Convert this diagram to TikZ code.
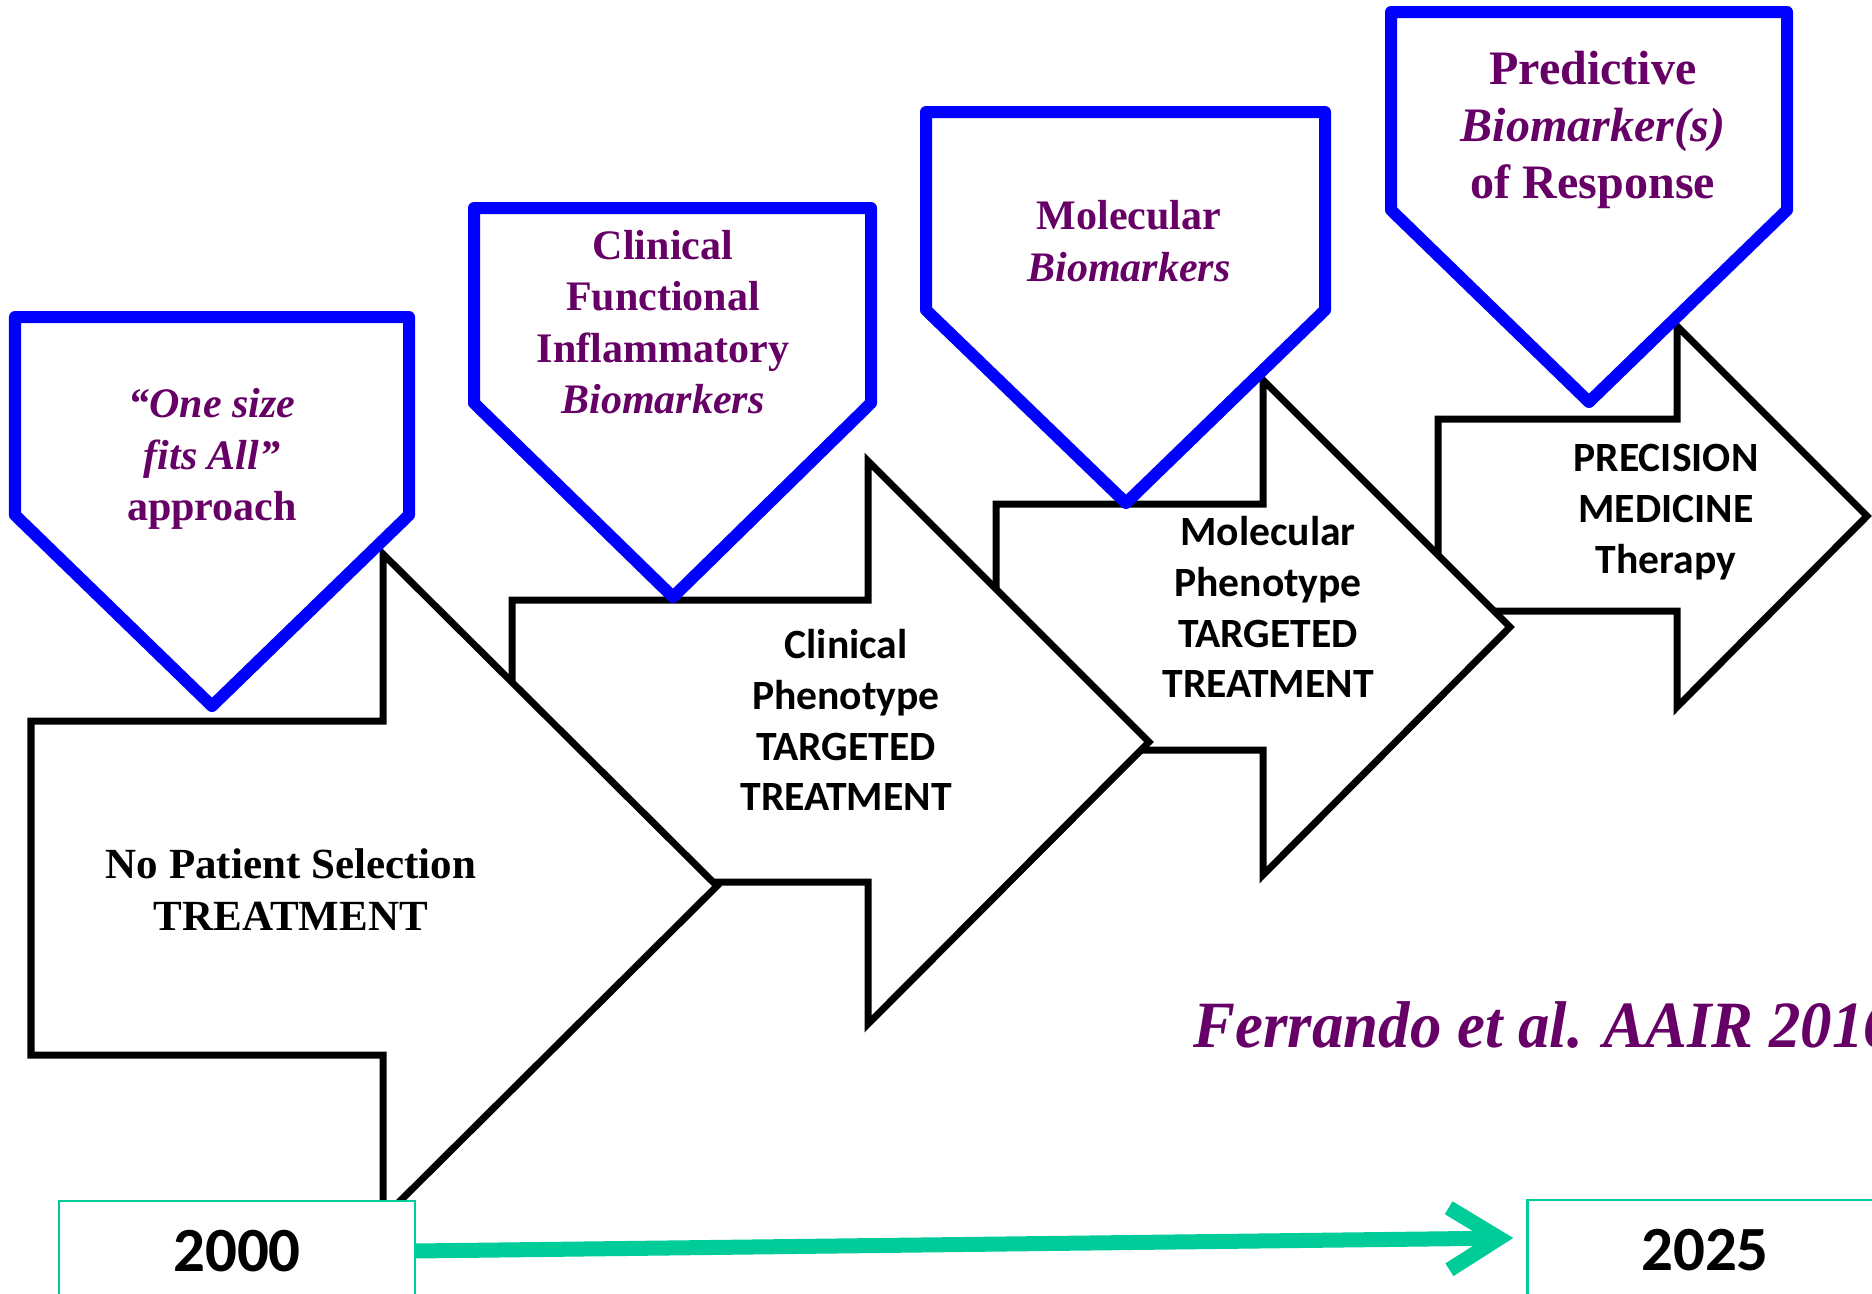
\documentclass[tikz,border=0pt]{standalone}
\usepackage{fontspec}
\setmainfont{Liberation Serif}
\newfontfamily\calibri{Carlito}
\newfontfamily\citefont{Liberation Serif}[FakeStretch=0.95]
\usepackage{tikz}
\usetikzlibrary{arrows.meta,positioning,calc}
\definecolor{tagblue}{HTML}{0000FF}
\definecolor{plum}{HTML}{660066}
\definecolor{mint}{HTML}{00CC99}
\tikzset{
  stepshape/.style={draw=black,line width=0.07cm,fill=white,line join=miter},
  tagshape/.style={draw=tagblue,line width=0.12cm,fill=white,line join=round},
  tagtext/.style={text=plum,align=center,inner sep=0pt,font=\fontsize{11.95}{14.6}\selectfont\bfseries},
  bigtag/.style={tagtext,font=\fontsize{13.66}{16.2}\selectfont\bfseries},
  steptext/.style={align=center,inner sep=0pt,font=\calibri\fontsize{11.84}{14.45}\selectfont\bfseries},
  firststep/.style={align=center,inner sep=0pt,font=\fontsize{12.23}{14.8}\selectfont\bfseries},
  yearbox/.style={draw=mint,line width=0.022cm,fill=white,minimum width=3.55cm,inner ysep=0.29cm,font=\calibri\fontsize{17.9}{21}\selectfont\bfseries},
  timeline/.style={-{Straight Barb[length=0.5cm,width=0.62cm]},line width=0.15cm,draw=mint},
  cite/.style={text=plum,anchor=base west,inner sep=0pt,font=\citefont\fontsize{18.8}{22}\selectfont\bfseries\itshape},
}

\begin{document}
\begin{tikzpicture}[x=0.01cm,y=-0.01cm]
\useasboundingbox (0,0) rectangle (1872,1293);
\clip (0,0) rectangle (1872,1293);

% treatment steps (last first, so each earlier step lies on top)
\draw[stepshape] (1438,419) -- (1677,419) -- (1677,326) -- (1867,516) -- (1677,707) -- (1677,611) -- (1438,611) -- cycle;
\draw[stepshape] (996,504) -- (1263,504) -- (1263,380) -- (1510,627) -- (1263,875) -- (1263,750) -- (996,750) -- cycle;
\draw[stepshape] (512,600) -- (868,600) -- (868,461) -- (1149,742) -- (868,1024) -- (868,882) -- (512,882) -- cycle;
\draw[stepshape] (31,721) -- (383,721) -- (383,554) -- (717,886) -- (383,1218) -- (383,1055) -- (31,1055) -- cycle;

\node[firststep] (t1) at (291,890) {No Patient Selection\\TREATMENT};
\node[steptext] (t2) at (846,720) {Clinical\\Phenotype\\TARGETED\\TREATMENT};
\node[steptext] (t3) at (1268,607) {Molecular\\Phenotype\\TARGETED\\TREATMENT};
\node[steptext] (t4) at (1666,512) {PRECISION\\MEDICINE\\Therapy};

% biomarker tags
\draw[tagshape] (15,317) -- (409,317) -- (409,515) -- (212,706) -- (15,515) -- cycle;
\draw[tagshape] (474,208) -- (871,208) -- (871,403) -- (673,597) -- (474,403) -- cycle;
\draw[tagshape] (926,112) -- (1325,112) -- (1325,310) -- (1126,503) -- (926,310) -- cycle;
\draw[tagshape] (1391,12) -- (1787,12) -- (1787,210) -- (1589,402) -- (1391,210) -- cycle;

\node[tagtext] (g1) at (212,459) {\textit{“One size}\\\textit{fits All”}\\approach};
\node[tagtext] (g2) at (663,322) {Clinical\\Functional\\Inflammatory\\\textit{Biomarkers}};
\node[tagtext] (g3) at (1129,241) {Molecular\\\textit{Biomarkers}};
\node[bigtag] (g4) at (1593,130) {Predictive\\\textit{Biomarker(s)}\\of Response};

% time axis
\node[yearbox,anchor=north] (y2000) at (237,1200) {2000};
\node[yearbox,anchor=north] (y2025) at (1705,1199) {2025};
\draw[timeline] (y2000.east) -- ([xshift=-0.13cm,yshift=0.12cm]y2025.west);

\node[cite] (ref) at (1193,1047) {Ferrando et al. AAIR 2016};

\end{tikzpicture}
\end{document}
